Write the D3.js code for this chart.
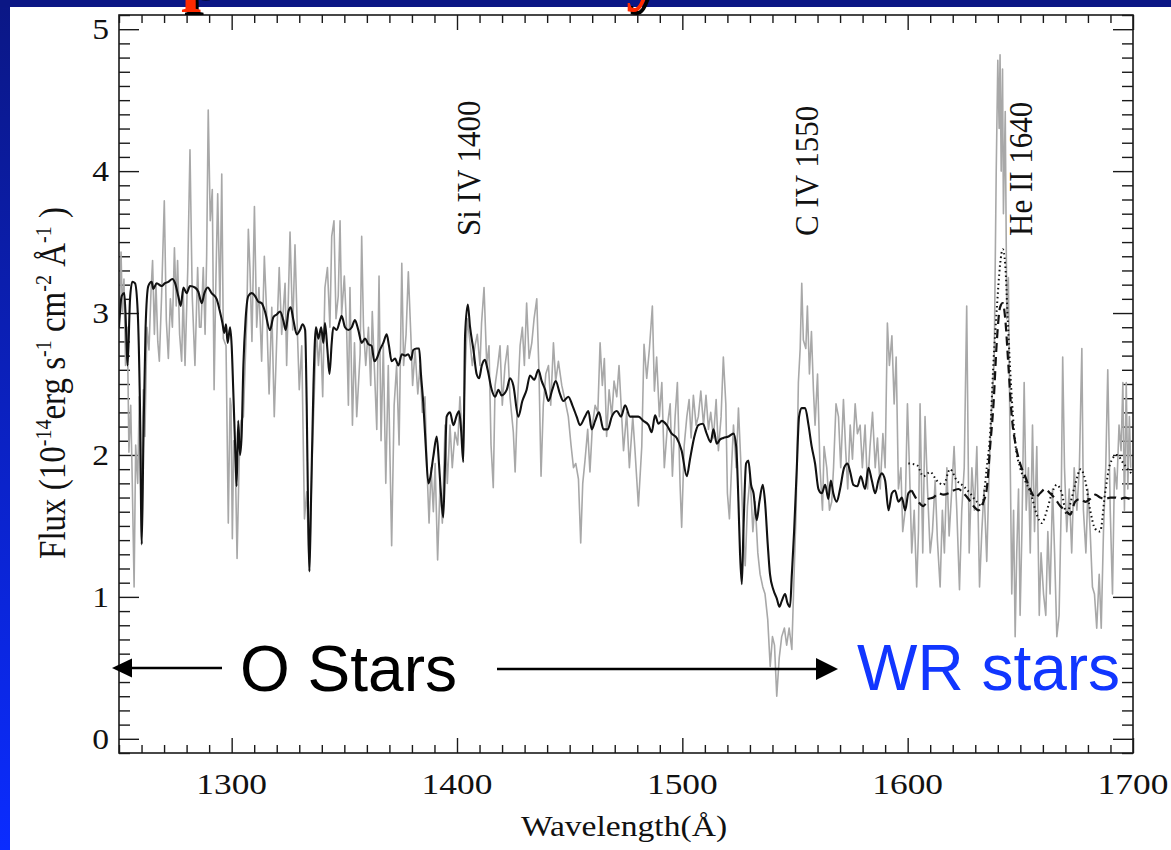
<!DOCTYPE html>
<html><head><meta charset="utf-8">
<script src="https://cdn.jsdelivr.net/npm/d3@7"></script>
<style>html,body{margin:0;padding:0;background:#fff;}svg{display:block;}</style>
</head><body>
<svg id="chart" width="1171" height="850"></svg>
<script>
// ---------------- data (wavelength Å, flux 1e-14 erg/s/cm2/Å) ----------------
const observed = [
[1250.0,2.90],[1250.9,3.43],[1251.5,3.01],[1252.2,3.24],[1252.9,2.63],[1253.7,2.90],[1254.4,2.02],[1255.2,2.35],[1255.9,1.80],[1256.7,1.07],
[1257.4,2.07],[1258.3,1.80],[1259.0,2.41],[1259.8,1.63],[1260.8,2.46],[1261.5,2.13],[1262.4,2.90],[1263.3,2.74],[1264.2,3.15],[1264.9,3.37],
[1265.7,2.85],[1266.4,3.21],[1267.2,2.80],[1267.9,2.66],[1268.9,3.12],[1270.1,3.79],[1271.0,2.95],[1271.9,2.68],[1272.8,3.10],[1273.7,2.90],
[1274.6,3.46],[1275.4,3.05],[1276.0,3.37],[1276.9,2.85],[1277.8,2.66],[1278.5,3.15],[1279.3,2.63],[1280.5,3.30],[1281.5,4.15],[1282.5,3.12],
[1283.7,2.63],[1284.9,3.32],[1285.7,2.90],[1286.4,2.90],[1287.4,3.32],[1288.2,2.85],[1288.9,3.40],[1289.6,4.43],[1290.5,3.65],[1291.4,3.87],
[1292.2,2.46],[1292.9,3.15],[1293.8,3.84],[1294.8,3.04],[1295.6,3.98],[1296.3,2.82],[1297.5,2.77],[1298.5,1.52],[1299.3,2.40],[1299.7,2.35],
[1300.3,1.41],[1300.9,2.10],[1301.5,2.07],[1302.4,1.27],[1303.3,1.94],[1304.1,2.24],[1305.2,2.27],[1305.9,2.60],[1306.7,2.96],[1307.4,3.59],
[1308.1,3.32],[1309.0,2.80],[1310.1,3.75],[1311.1,2.90],[1312.1,3.18],[1313.3,2.66],[1314.5,3.40],[1315.5,3.01],[1316.6,2.43],[1317.8,3.04],
[1318.9,2.27],[1320.3,2.96],[1321.1,3.32],[1322.2,2.85],[1323.7,3.21],[1324.4,2.63],[1325.9,3.57],[1327.1,2.88],[1328.1,3.48],[1329.2,2.85],
[1330.0,2.46],[1331.1,2.77],[1332.3,1.55],[1333.3,1.74],[1334.5,1.18],[1335.5,1.85],[1336.5,2.35],[1337.6,2.90],[1338.5,2.63],[1339.5,2.85],
[1340.4,2.41],[1341.4,3.18],[1342.5,3.32],[1343.6,2.90],[1344.4,3.54],[1345.4,3.65],[1346.3,2.96],[1347.3,3.12],[1348.1,3.65],[1348.8,2.99],
[1350.0,3.26],[1351.0,2.90],[1351.8,2.35],[1352.5,3.18],[1353.6,2.21],[1354.5,2.79],[1355.5,2.27],[1357.0,2.71],[1357.7,3.54],[1358.5,2.90],
[1359.5,2.63],[1360.7,2.90],[1361.7,2.49],[1362.4,3.01],[1363.3,2.63],[1364.4,2.18],[1365.4,3.26],[1366.3,2.10],[1367.3,2.77],[1368.4,1.80],
[1369.5,2.63],[1371.0,1.36],[1372.1,2.35],[1373.2,2.63],[1374.3,2.07],[1375.5,3.35],[1376.3,2.63],[1377.4,2.85],[1378.4,3.29],[1379.5,2.85],
[1380.3,2.49],[1381.4,2.74],[1382.6,2.43],[1383.6,2.63],[1384.6,2.30],[1385.8,2.41],[1386.6,1.94],[1387.6,1.52],[1388.5,1.91],[1389.5,1.60],
[1390.3,1.94],[1391.4,1.26],[1392.5,1.80],[1393.5,1.52],[1394.7,2.21],[1395.7,1.80],[1396.9,2.21],[1397.9,1.91],[1399.1,2.16],[1400.3,2.07],
[1401.3,2.41],[1402.5,2.07],[1403.6,2.57],[1404.6,2.96],[1405.8,2.79],[1406.8,2.63],[1408.0,2.77],[1409.0,2.85],[1410.2,2.63],[1410.9,2.93],
[1412.0,3.18],[1413.2,2.63],[1414.2,2.77],[1415.1,2.07],[1416.1,1.77],[1416.9,2.49],[1418.1,2.63],[1419.1,2.77],[1420.1,2.35],[1421.3,2.63],
[1422.5,2.77],[1423.5,2.41],[1425.0,2.16],[1425.8,1.88],[1426.8,2.35],[1428.0,2.77],[1429.0,2.90],[1429.9,2.63],[1430.9,3.07],[1432.0,2.68],
[1433.2,2.79],[1434.2,2.96],[1435.4,3.10],[1436.4,2.57],[1437.3,1.85],[1438.3,2.35],[1439.4,2.57],[1440.6,2.63],[1441.6,2.35],[1442.8,2.79],
[1443.8,2.52],[1445.0,2.66],[1446.5,2.49],[1448.0,2.38],[1449.4,2.27],[1450.6,2.07],[1451.7,1.91],[1452.7,1.94],[1453.9,1.83],[1454.9,1.38],
[1455.8,1.80],[1456.8,1.96],[1458.0,2.18],[1459.0,1.88],[1460.1,2.21],[1461.3,2.35],[1462.5,2.30],[1463.5,2.79],[1464.5,2.49],[1465.4,2.68],
[1466.4,2.13],[1467.5,2.46],[1468.7,2.27],[1469.7,2.52],[1470.9,2.41],[1471.9,2.63],[1473.9,2.03],[1475.3,2.30],[1476.5,1.91],[1478.0,2.27],
[1479.0,2.03],[1480.5,1.64],[1482.0,2.06],[1483.0,2.78],[1484.2,2.54],[1485.4,2.75],[1486.7,3.05],[1487.6,2.45],[1488.6,2.69],[1489.8,2.27],
[1490.9,2.51],[1492.0,1.91],[1493.4,2.21],[1494.6,2.36],[1495.6,1.85],[1496.8,2.27],[1497.8,2.51],[1499.0,1.79],[1499.7,1.49],[1500.8,2.06],
[1502.0,2.27],[1503.0,2.39],[1503.9,2.12],[1504.9,2.42],[1506.1,2.21],[1507.1,2.27],[1508.2,2.45],[1509.4,2.21],[1510.5,2.42],[1511.6,2.18],
[1512.6,2.30],[1513.8,2.12],[1515.0,2.39],[1516.0,2.03],[1517.2,2.27],[1518.2,2.69],[1519.3,2.36],[1520.0,1.73],[1520.9,1.55],[1522.0,1.97],
[1522.7,2.21],[1523.9,1.91],[1524.9,2.33],[1525.9,1.97],[1526.8,1.55],[1527.9,1.22],[1528.9,1.64],[1530.1,1.85],[1531.3,1.46],[1532.3,1.67],
[1533.5,1.31],[1534.5,1.16],[1535.7,1.07],[1536.7,1.02],[1537.9,0.84],[1539.0,0.51],[1540.0,0.72],[1540.9,0.66],[1541.9,0.30],[1543.0,0.57],
[1544.1,0.72],[1545.3,0.78],[1546.3,0.66],[1547.4,0.78],[1548.6,0.63],[1549.6,1.16],[1550.5,1.61],[1551.5,2.51],[1552.3,2.75],[1553.0,3.21],
[1553.7,2.81],[1554.8,2.75],[1555.5,3.05],[1556.4,2.57],[1557.3,2.87],[1558.2,2.45],[1558.9,2.21],[1560.0,2.57],[1561.1,1.91],[1562.2,1.61],
[1562.9,2.06],[1564.1,1.91],[1565.3,1.61],[1566.3,1.67],[1567.1,1.91],[1568.2,2.36],[1569.3,2.27],[1570.3,1.91],[1571.5,2.39],[1572.5,2.03],
[1573.4,1.76],[1574.5,2.21],[1575.5,1.97],[1576.7,2.36],[1577.7,2.15],[1578.9,2.21],[1579.9,1.91],[1581.1,2.21],[1582.2,1.76],[1583.3,2.06],
[1584.4,2.30],[1585.6,1.91],[1586.6,2.12],[1587.8,1.76],[1589.0,2.15],[1590.0,1.91],[1591.0,2.93],[1591.9,2.63],[1593.0,2.84],[1594.0,2.36],
[1594.9,2.69],[1595.9,1.76],[1597.0,1.91],[1597.8,1.46],[1598.9,1.61],[1599.9,2.36],[1600.8,1.91],[1601.8,1.31],[1602.9,1.61],[1604.0,1.07],
[1604.8,1.46],[1605.5,2.36],[1606.7,1.31],[1607.7,2.27],[1608.8,1.76],[1610.0,1.31],[1611.0,1.46],[1612.2,1.82],[1613.2,1.40],[1614.4,1.07],
[1615.4,1.61],[1616.3,1.31],[1617.4,1.91],[1618.4,1.43],[1619.6,1.76],[1620.6,2.06],[1621.8,1.61],[1623.0,1.05],[1624.0,1.61],[1625.1,1.91],
[1626.2,3.05],[1627.3,1.31],[1628.5,1.91],[1629.6,1.61],[1630.7,2.06],[1631.9,1.07],[1632.9,1.46],[1633.9,1.76],[1635.1,1.25],[1636.2,1.91],
[1637.3,2.36],[1638.4,2.66],[1639.3,4.00],[1640.0,4.78],[1640.6,4.30],[1641.0,4.82],[1641.5,4.00],[1642.1,4.72],[1642.5,3.70],[1643.3,4.42],
[1644.0,2.96],[1644.7,3.25],[1645.5,1.97],[1646.2,1.02],[1647.0,1.61],[1647.7,0.72],[1648.4,1.31],[1649.2,1.76],[1649.9,0.87],[1650.7,1.46],
[1651.7,2.51],[1652.6,1.61],[1653.6,1.91],[1654.4,1.31],[1655.4,2.21],[1656.3,1.46],[1657.3,2.06],[1658.4,0.87],[1659.2,1.31],[1660.3,1.02],
[1661.3,0.87],[1662.2,1.46],[1663.2,1.02],[1664.3,1.76],[1665.2,1.31],[1666.2,0.72],[1667.2,0.87],[1668.1,1.61],[1668.8,2.69],[1669.6,1.91],
[1670.6,1.46],[1671.7,1.76],[1672.8,1.31],[1673.9,1.91],[1675.1,1.61],[1676.2,1.91],[1677.3,2.75],[1678.0,1.61],[1679.1,1.31],[1680.0,1.76],
[1681.0,1.46],[1682.0,1.07],[1682.9,1.02],[1683.9,0.78],[1685.0,1.16],[1685.9,0.78],[1686.9,1.46],[1687.9,1.91],[1688.8,2.60],[1689.9,1.61],
[1690.9,1.02],[1691.8,1.91],[1692.8,1.76],[1693.8,2.21],[1694.7,2.03],[1695.5,2.51],[1696.2,1.61],[1697.0,2.51],[1697.7,1.76],[1698.4,2.27],
[1699.0,1.91]
];

const modelOStar = [
[1250.0,2.90],[1251.2,3.12],[1252.4,3.14],[1253.4,2.77],[1253.8,2.63],[1254.9,3.10],[1255.9,3.22],[1257.1,3.21],[1258.3,3.01],[1259.3,2.35],
[1260.1,1.37],[1260.8,2.07],[1261.8,2.90],[1263.0,3.19],[1264.5,3.22],[1265.2,3.17],[1266.7,3.21],[1268.9,3.19],[1270.4,3.21],[1271.9,3.22],
[1273.7,3.24],[1274.9,3.21],[1276.3,3.12],[1277.4,3.05],[1278.6,3.18],[1280.0,3.14],[1281.5,3.19],[1283.7,3.18],[1285.2,3.15],[1286.7,3.07],
[1287.9,3.14],[1289.4,3.18],[1291.1,3.14],[1293.3,3.10],[1294.8,3.01],[1295.9,2.93],[1296.7,2.86],[1297.5,2.92],[1298.2,2.79],[1299.3,2.90],
[1300.0,2.77],[1300.7,2.46],[1301.8,1.94],[1302.2,1.78],[1302.9,2.24],[1303.7,2.00],[1304.4,2.13],[1305.2,2.63],[1306.2,2.96],[1307.4,3.12],
[1308.9,3.14],[1310.4,3.12],[1311.8,3.08],[1313.3,3.07],[1314.8,3.01],[1317.0,2.88],[1318.5,2.97],[1320.0,2.99],[1321.5,3.01],[1322.9,2.95],
[1324.0,2.88],[1325.2,3.01],[1326.2,3.04],[1327.4,2.95],[1328.9,2.85],[1330.3,2.88],[1331.5,2.92],[1332.6,2.88],[1333.3,2.35],[1334.0,1.52],
[1334.5,1.18],[1335.2,1.66],[1336.3,2.49],[1337.4,2.90],[1338.5,2.82],[1339.7,2.90],[1340.7,2.79],[1341.4,2.93],[1342.5,2.74],[1343.4,2.57],
[1344.4,2.79],[1345.1,2.90],[1346.6,2.88],[1348.1,2.95],[1348.8,2.98],[1350.3,2.90],[1351.8,2.88],[1353.3,2.90],[1354.7,2.95],[1356.2,2.88],
[1357.7,2.79],[1359.2,2.82],[1360.7,2.78],[1362.1,2.77],[1363.3,2.66],[1364.4,2.68],[1365.8,2.74],[1367.3,2.79],[1368.8,2.85],[1369.8,2.77],
[1371.0,2.66],[1372.5,2.68],[1374.0,2.63],[1375.5,2.71],[1377.0,2.70],[1378.4,2.71],[1379.6,2.67],[1380.6,2.74],[1382.1,2.75],[1383.2,2.75],
[1384.0,2.57],[1385.1,2.35],[1386.1,2.07],[1387.3,1.80],[1388.0,1.83],[1389.5,1.99],[1391.0,2.13],[1392.0,1.94],[1392.9,1.72],[1393.9,1.56],
[1394.7,1.94],[1395.4,2.27],[1396.9,2.30],[1398.4,2.21],[1399.9,2.28],[1400.9,2.31],[1401.8,2.18],[1402.8,1.95],[1403.6,2.85],[1404.8,3.06],
[1405.8,2.90],[1407.3,2.74],[1408.7,2.57],[1409.8,2.54],[1411.0,2.63],[1412.4,2.67],[1413.6,2.60],[1415.4,2.46],[1416.9,2.41],[1418.4,2.46],
[1419.8,2.42],[1422.1,2.46],[1423.5,2.54],[1425.0,2.49],[1427.2,2.27],[1429.0,2.38],[1430.9,2.46],[1432.4,2.56],[1434.3,2.53],[1436.1,2.60],
[1437.6,2.52],[1439.1,2.46],[1440.6,2.38],[1442.3,2.46],[1443.8,2.52],[1445.7,2.43],[1447.2,2.38],[1449.4,2.41],[1451.2,2.35],[1453.1,2.27],
[1454.6,2.21],[1456.8,2.27],[1458.3,2.31],[1459.8,2.18],[1461.3,2.24],[1463.0,2.30],[1465.0,2.18],[1466.9,2.18],[1468.7,2.27],[1470.9,2.31],
[1472.8,2.27],[1474.6,2.35],[1476.8,2.27],[1478.7,2.27],[1480.5,2.27],[1482.7,2.24],[1485.0,2.21],[1486.4,2.16],[1487.9,2.28],[1489.4,2.22],
[1490.9,2.24],[1493.1,2.21],[1495.3,2.15],[1497.5,2.12],[1499.7,2.03],[1502.0,1.85],[1503.4,1.97],[1505.2,2.12],[1507.1,2.21],[1509.1,2.22],
[1510.8,2.15],[1512.6,2.09],[1513.8,2.18],[1515.3,2.08],[1516.8,2.11],[1518.2,2.12],[1520.5,2.13],[1522.7,2.15],[1523.9,2.06],[1524.9,1.67],
[1525.6,1.31],[1526.4,1.09],[1527.1,1.46],[1528.3,1.94],[1529.3,1.96],[1530.5,1.79],[1531.6,1.73],[1533.0,1.54],[1534.2,1.67],[1535.7,1.79],
[1536.7,1.67],[1537.9,1.37],[1538.9,1.16],[1540.4,1.05],[1541.9,0.99],[1543.1,0.93],[1544.1,0.97],[1545.6,1.02],[1546.6,0.96],[1547.8,0.93],
[1548.6,1.16],[1549.6,1.46],[1550.8,1.91],[1551.8,2.27],[1553.0,2.33],[1554.5,2.33],[1556.0,2.21],[1557.4,2.06],[1558.9,1.94],[1560.4,1.76],
[1561.9,1.73],[1563.4,1.79],[1564.8,1.69],[1565.9,1.82],[1567.0,1.73],[1568.5,1.67],[1570.0,1.76],[1571.8,1.91],[1573.3,1.94],[1574.5,1.88],
[1575.9,1.79],[1577.7,1.78],[1579.2,1.85],[1581.1,1.76],[1582.6,1.91],[1584.1,1.82],[1585.6,1.73],[1587.0,1.82],[1588.5,1.87],[1590.0,1.82],
[1591.5,1.61],[1593.0,1.73],[1594.4,1.75],[1595.9,1.67],[1597.4,1.70],[1598.9,1.61],[1600.3,1.73],[1601.8,1.75]
];

const modelDashed = [
[1601.8,1.75],[1604.8,1.67],[1607.0,1.64],[1609.2,1.69],[1611.4,1.70],[1613.7,1.73],[1615.9,1.72],[1618.1,1.73],[1620.3,1.75],[1622.5,1.76],
[1624.8,1.73],[1627.0,1.69],[1629.2,1.64],[1631.4,1.61],[1633.6,1.67],[1635.1,1.76],[1636.6,2.06],[1638.1,2.36],[1639.6,2.81],[1641.0,3.04],
[1642.2,3.07],[1643.3,2.96],[1644.7,2.63],[1646.2,2.27],[1647.7,2.09],[1649.9,1.94],[1652.1,1.85],[1654.3,1.76],[1656.6,1.70],[1658.8,1.73],
[1661.0,1.76],[1663.2,1.73],[1665.5,1.69],[1667.7,1.64],[1669.9,1.61],[1672.1,1.58],[1674.3,1.67],[1676.5,1.69],[1678.8,1.67],[1681.0,1.69],
[1683.2,1.72],[1685.4,1.70],[1687.6,1.69],[1689.9,1.70],[1692.1,1.70],[1694.3,1.69],[1696.5,1.70],[1698.7,1.69],[1700.0,1.70]
];

const modelDotted = [
[1600.3,1.94],[1604.0,1.93],[1607.0,1.85],[1610.0,1.88],[1612.9,1.82],[1615.9,1.79],[1618.8,1.90],[1621.8,1.82],[1624.8,1.78],[1627.7,1.73],
[1630.7,1.67],[1632.9,1.64],[1635.1,1.91],[1636.6,2.15],[1638.1,2.66],[1639.6,3.04],[1641.0,3.34],[1642.2,3.45],[1643.3,3.34],[1644.4,2.96],
[1645.8,2.51],[1647.7,2.09],[1649.9,1.91],[1652.1,1.82],[1654.6,1.73],[1657.3,1.58],[1659.5,1.52],[1661.8,1.61],[1664.0,1.73],[1666.2,1.79],
[1668.4,1.73],[1670.6,1.58],[1672.4,1.67],[1674.3,1.79],[1676.8,1.90],[1678.8,1.82],[1681.0,1.61],[1683.2,1.48],[1685.4,1.46],[1687.6,1.73],
[1689.9,1.94],[1692.8,2.00],[1695.8,1.94],[1698.7,1.88],[1700.0,1.86]
];

const xMajorTicks = [1300, 1400, 1500, 1600, 1700];
const yMajorTicks = [0, 1, 2, 3, 4, 5];
const lineLabels = ["Si IV 1400", "C IV 1550", "He II 1640"];
const lineLabelWl = [1410, 1560, 1655];
const xTitle = "Wavelength(Å)";

// ---------------- drawing ----------------
const svg = d3.select("#chart");
const W = 1171, H = 850;
const L = 119, R = 1133, T = 15, B = 753;
const x = d3.scaleLinear().domain([1250, 1700]).range([L, R]);
const y = d3.scaleLinear().domain([-0.1, 5.1]).range([B, T]);
const SERIF = "'Liberation Serif','Times New Roman',serif";
const SANS = "'Liberation Sans',Arial,sans-serif";
const SX = 1.12;

svg.append("rect").attr("width", W).attr("height", H).attr("fill", "#fff");

// slide border (blue)
const defs = svg.append("defs");
const grad = defs.append("linearGradient").attr("id", "blueGrad").attr("x1", 0).attr("y1", 0).attr("x2", 0).attr("y2", 1);
grad.append("stop").attr("offset", "0%").attr("stop-color", "#0b1785");
grad.append("stop").attr("offset", "100%").attr("stop-color", "#0b2cff");
svg.append("rect").attr("x", 0).attr("y", 0).attr("width", 10).attr("height", H).attr("fill", "url(#blueGrad)");
svg.append("rect").attr("x", 0).attr("y", 0).attr("width", W).attr("height", 7).attr("fill", "#0b1785");

defs.append("clipPath").attr("id", "plotClip").append("rect")
  .attr("x", L).attr("y", T).attr("width", R - L).attr("height", B - T);

// axes ticks (inward) built with d3 axes
const minorX = d3.range(1250, 1701, 10).filter(v => v % 100 !== 0);
const minorY = d3.range(-1, 52).map(v => v / 10).filter(v => Math.abs(v - Math.round(v)) > 1e-6);

function styleAxis(g) {
  g.select(".domain").remove();
  g.selectAll("line").attr("stroke", "#1a1a1a").attr("stroke-width", 1.4);
  g.selectAll("text").remove();
}
svg.append("g").attr("transform", `translate(0,${B})`).call(d3.axisTop(x).tickValues(minorX).tickSize(8)).call(styleAxis);
svg.append("g").attr("transform", `translate(0,${B})`).call(d3.axisTop(x).tickValues(xMajorTicks).tickSize(15)).call(styleAxis);
svg.append("g").attr("transform", `translate(0,${T})`).call(d3.axisBottom(x).tickValues(minorX).tickSize(8)).call(styleAxis);
svg.append("g").attr("transform", `translate(0,${T})`).call(d3.axisBottom(x).tickValues(xMajorTicks).tickSize(15)).call(styleAxis);
svg.append("g").attr("transform", `translate(${L},0)`).call(d3.axisRight(y).tickValues(minorY).tickSize(11)).call(styleAxis);
svg.append("g").attr("transform", `translate(${L},0)`).call(d3.axisRight(y).tickValues(yMajorTicks).tickSize(20)).call(styleAxis);
svg.append("g").attr("transform", `translate(${R},0)`).call(d3.axisLeft(y).tickValues(minorY).tickSize(11)).call(styleAxis);
svg.append("g").attr("transform", `translate(${R},0)`).call(d3.axisLeft(y).tickValues(yMajorTicks).tickSize(20)).call(styleAxis);

// lines
const line = d3.line().x(d => x(d[0])).y(d => y(d[1]));
const plot = svg.append("g").attr("clip-path", "url(#plotClip)");
plot.append("path").datum(observed).attr("d", line).attr("fill", "none")
  .attr("stroke", "#a8a8a8").attr("stroke-width", 1.6).attr("stroke-linejoin", "round");
plot.append("path").datum(modelDotted).attr("d", line.curve(d3.curveMonotoneX)).attr("fill", "none")
  .attr("stroke", "#111").attr("stroke-width", 2).attr("stroke-dasharray", "1.5,3");
plot.append("path").datum(modelDashed).attr("d", line.curve(d3.curveMonotoneX)).attr("fill", "none")
  .attr("stroke", "#111").attr("stroke-width", 2.2).attr("stroke-dasharray", "9,5");
plot.append("path").datum(modelOStar).attr("d", line.curve(d3.curveMonotoneX)).attr("fill", "none")
  .attr("stroke", "#111").attr("stroke-width", 2.1).attr("stroke-linejoin", "round");

// frame
svg.append("rect").attr("x", L).attr("y", T).attr("width", R - L).attr("height", B - T)
  .attr("fill", "none").attr("stroke", "#1a1a1a").attr("stroke-width", 1.6);

// tick labels
xMajorTicks.forEach(t => {
  svg.append("g").attr("transform", `translate(${x(t)},794) scale(${SX + 0.06},1)`)
    .append("text").attr("text-anchor", "middle").attr("font-family", SERIF)
    .attr("font-size", 30).attr("fill", "#111").text(t);
});
yMajorTicks.forEach(t => {
  svg.append("g").attr("transform", `translate(109,${y(t) + 10}) scale(${SX},1)`)
    .append("text").attr("text-anchor", "end").attr("font-family", SERIF)
    .attr("font-size", 30).attr("fill", "#111").text(t);
});

// axis titles
svg.append("g").attr("transform", `translate(${(L + R) / 2 - 2},836) scale(${SX},1)`)
  .append("text").attr("text-anchor", "middle").attr("font-family", SERIF)
  .attr("font-size", 30).attr("fill", "#111").text(xTitle);

const yt = svg.append("g").attr("transform", `translate(65,${(T + B) / 2 - 1}) scale(${SX},1) rotate(-90)`)
  .append("text").attr("text-anchor", "middle").attr("font-family", SERIF)
  .attr("font-size", 33).attr("fill", "#111");
const ySegs = [["Flux (10", 0], ["-14", 1], ["erg s", 0], ["-1", 1], [" cm", 0], ["-2", 1], [" Å", 0], ["-1", 1], [" )", 0]];
ySegs.forEach(s => {
  const ts = yt.append("tspan").text(s[0]);
  if (s[1]) ts.attr("font-size", 20).attr("baseline-shift", "60%");
});

// line identifications
lineLabels.forEach((lab, i) => {
  svg.append("g").attr("transform", `translate(${x(lineLabelWl[i])},236) scale(${SX},1) rotate(-90)`)
    .append("text").attr("text-anchor", "start").attr("font-family", SERIF)
    .attr("font-size", 31).attr("fill", "#111").text(lab);
});

// overlay: O stars -> WR stars
const ov = svg.append("g");
ov.append("line").attr("x1", 222).attr("x2", 128).attr("y1", 668).attr("y2", 668).attr("stroke", "#000").attr("stroke-width", 2.5);
ov.append("path").attr("d", "M112,668 L132,658.5 L132,677.5 Z").attr("fill", "#000");
ov.append("line").attr("x1", 497).attr("x2", 820).attr("y1", 669).attr("y2", 669).attr("stroke", "#000").attr("stroke-width", 2.5);
ov.append("path").attr("d", "M838,669 L816,658 L816,680 Z").attr("fill", "#000");
ov.append("text").attr("x", 240).attr("y", 691).attr("font-family", SANS).attr("font-size", 64)
  .attr("fill", "#000").text("O Stars");
ov.append("text").attr("x", 857).attr("y", 690).attr("font-family", SANS).attr("font-size", 64)
  .attr("fill", "#1136ff").text("WR stars");

// cut-off slide title fragments (red with black shadow)
[["p", 181], ["y", 626]].forEach(d => {
  svg.append("text").attr("x", d[1] + 3).attr("y", 0).attr("font-family", SERIF).attr("font-weight", "bold")
    .attr("font-size", 72).attr("fill", "#000").text(d[0]);
  svg.append("text").attr("x", d[1]).attr("y", -3).attr("font-family", SERIF).attr("font-weight", "bold")
    .attr("font-size", 72).attr("fill", "#ff2a00").text(d[0]);
});
</script>
</body></html>
